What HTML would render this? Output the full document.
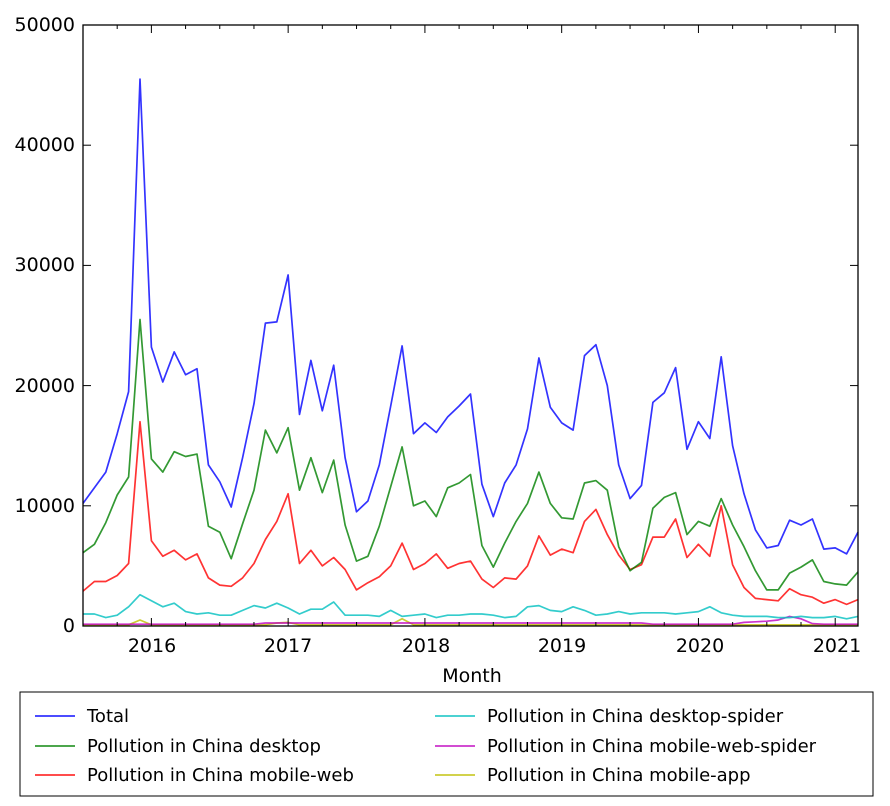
<!DOCTYPE html>
<html><head><meta charset="utf-8"><style>
body{margin:0;background:#fff;width:890px;height:801px;overflow:hidden}
text{font-family:"DejaVu Sans","Liberation Sans",sans-serif;fill:#000}
</style></head><body>
<svg id="s" width="890" height="801" xmlns="http://www.w3.org/2000/svg">
<rect x="0" y="0" width="890" height="801" fill="#fff"/>
<g id="lines" fill="none" stroke-width="1.7" stroke-linejoin="round" stroke-opacity="0.8"></g>
<rect x="83" y="25" width="775" height="601" fill="none" stroke="#000" stroke-width="1.3"/>
<g id="ticks" stroke="#000" stroke-width="1"></g>
<g font-size="19" text-anchor="end">
<text x="75" y="632">0</text>
<text x="75" y="512">10000</text>
<text x="75" y="392">20000</text>
<text x="75" y="271">30000</text>
<text x="75" y="151">40000</text>
<text x="75" y="31">50000</text>
</g>
<g font-size="19" text-anchor="middle">
<text x="152" y="652">2016</text>
<text x="288" y="652">2017</text>
<text x="426" y="652">2018</text>
<text x="562" y="652">2019</text>
<text x="700" y="652">2020</text>
<text x="837" y="652">2021</text>
<text x="472" y="682">Month</text>
</g>
<rect x="20" y="692" width="853" height="104" fill="#fff" stroke="#000" stroke-width="1"/>
<g stroke-width="1.7" stroke-opacity="0.8">
<line x1="35" y1="716" x2="75" y2="716" stroke="#0000ff"/>
<line x1="35" y1="746" x2="75" y2="746" stroke="#008000"/>
<line x1="35" y1="775" x2="75" y2="775" stroke="#ff0000"/>
<line x1="435" y1="716" x2="475" y2="716" stroke="#00bfbf"/>
<line x1="435" y1="746" x2="475" y2="746" stroke="#bf00bf"/>
<line x1="435" y1="775" x2="475" y2="775" stroke="#bfbf00"/>
</g>
<g font-size="18">
<text x="87" y="722">Total</text>
<text x="87" y="752">Pollution in China desktop</text>
<text x="87" y="781">Pollution in China mobile-web</text>
<text x="487" y="722">Pollution in China desktop-spider</text>
<text x="487" y="752">Pollution in China mobile-web-spider</text>
<text x="487" y="781">Pollution in China mobile-app</text>
</g>
</svg>
<script>
var total=[10200,11500,12800,16000,19500,45500,23200,20300,22800,20900,21400,13400,12000,9900,14000,18500,25200,25300,29200,17600,22100,17900,21700,14000,9500,10400,13400,18300,23300,16000,16900,16100,17400,18300,19300,11800,9100,11900,13400,16400,22300,18200,16900,16300,22500,23400,20000,13400,10600,11700,18600,19400,21500,14700,17000,15600,22400,15000,11000,8000,6500,6700,8800,8400,8900,6400,6500,6000,7800];
var desk=[6100,6800,8600,10900,12400,25500,13900,12800,14500,14100,14300,8300,7800,5600,8500,11300,16300,14400,16500,11300,14000,11100,13800,8400,5400,5800,8300,11600,14900,10000,10400,9100,11500,11900,12600,6700,4900,6900,8700,10200,12800,10200,9000,8900,11900,12100,11300,6600,4600,5300,9800,10700,11100,7600,8700,8300,10600,8400,6600,4600,3000,3000,4400,4900,5500,3700,3500,3400,4500];
var mw=[2900,3700,3700,4200,5200,17000,7100,5800,6300,5500,6000,4000,3400,3300,4000,5200,7200,8700,11000,5200,6300,5000,5700,4700,3000,3600,4100,5000,6900,4700,5200,6000,4800,5200,5400,3900,3200,4000,3900,5000,7500,5900,6400,6100,8700,9700,7600,5900,4700,5100,7400,7400,8900,5700,6800,5800,10000,5100,3200,2300,2200,2100,3100,2600,2400,1900,2200,1800,2200];
var ds=[1000,1000,700,900,1600,2600,2100,1600,1900,1200,1000,1100,900,900,1300,1700,1500,1900,1500,1000,1400,1400,2000,900,900,900,800,1300,800,900,1000,700,900,900,1000,1000,900,700,800,1600,1700,1300,1200,1600,1300,900,1000,1200,1000,1100,1100,1100,1000,1100,1200,1600,1100,900,800,800,800,700,700,800,700,700,800,600,800];
var mws=[],ma=[];
for(var i=0;i<69;i++){mws.push(i>=58&&i<=64?[300,350,400,500,800,600,200][i-58]:(i>15&&i<50?250:150));ma.push(100);}
ma[5]=500;ma[28]=600;ma[17]=250;ma[18]=300;
function pts(a){return a.slice(0,69).map(function(v,i){return (83+i*775/68).toFixed(1)+","+(626-v*0.01202).toFixed(1)}).join(" ");}
var g=document.getElementById("lines"),ns="http://www.w3.org/2000/svg";
[[ma,"#bfbf00"],[mws,"#bf00bf"],[ds,"#00bfbf"],[mw,"#ff0000"],[desk,"#008000"],[total,"#0000ff"]].forEach(function(s){var p=document.createElementNS(ns,"polyline");p.setAttribute("points",pts(s[0]));p.setAttribute("stroke",s[1]);g.appendChild(p);});
var t=document.getElementById("ticks");
function ln(x1,y1,x2,y2){var l=document.createElementNS(ns,"line");l.setAttribute("x1",x1);l.setAttribute("y1",y1);l.setAttribute("x2",x2);l.setAttribute("y2",y2);t.appendChild(l);}
for(var m=0;m<=68;m+=3){var x=83+m*775/68;var big=((m+6)%12==0);var L=big?8:4;ln(x,626,x,626-L);ln(x,25,x,25+L);}
for(var k=0;k<=5;k++){var y=626-k*120.2;ln(83,y,91,y);ln(858,y,850,y);}
</script>
</body></html>
